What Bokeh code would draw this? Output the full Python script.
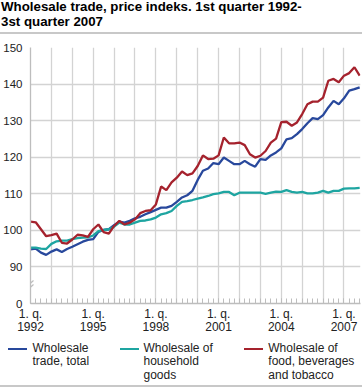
from bokeh.plotting import figure
from bokeh.layouts import column
from bokeh.models import FixedTicker, Range1d, Div
from bokeh.embed import file_html
from bokeh.resources import INLINE

# ---------------- data (quarterly index, 1. q. 1992 onwards) ----------------
quarter_no = list(range(64))
quarter_x = [1992 + q / 4 for q in quarter_no]

total = [94.8, 95.0, 93.9, 93.3, 94.2, 94.8, 94.1, 94.9, 95.5, 96.2, 96.9, 97.4,
         97.6, 99.6, 100.1, 100.3, 101.4, 102.4, 102.1, 102.6, 103.3, 103.7, 104.4, 105.0,
         105.6, 106.2, 106.2, 106.7, 107.8, 109.0, 109.6, 110.8, 113.8, 116.3, 116.9, 118.4,
         118.1, 119.9, 119.0, 118.1, 118.1, 119.0, 118.1, 117.4, 119.5, 119.3, 120.5, 121.3,
         122.4, 124.9, 125.2, 126.3, 127.7, 129.3, 130.7, 130.4, 131.5, 133.6, 135.4, 134.5,
         136.1, 138.2, 138.6, 139.1]

household = [95.3, 95.3, 95.0, 94.9, 96.3, 97.0, 97.2, 97.2, 97.6, 97.9, 98.0, 98.1,
             98.6, 99.8, 100.1, 100.3, 101.0, 102.1, 101.6, 101.6, 102.1, 102.6, 102.7, 103.0,
             103.5, 104.4, 104.7, 105.3, 106.7, 107.8, 108.0, 108.3, 108.7, 109.0, 109.4, 109.9,
             110.1, 110.5, 110.5, 109.6, 110.3, 110.3, 110.3, 110.3, 110.3, 110.0, 110.3, 110.6,
             110.5, 111.0, 110.5, 110.3, 110.5, 110.1, 110.1, 110.3, 110.8, 110.3, 110.8, 110.8,
             111.4, 111.5, 111.5, 111.6]

food = [102.4, 102.2, 100.3, 98.4, 98.7, 99.1, 96.6, 96.4, 97.5, 98.8, 98.6, 98.2,
        100.3, 101.6, 99.5, 99.1, 101.2, 102.6, 101.6, 102.1, 103.0, 104.7, 105.3, 105.5,
        107.1, 112.0, 111.0, 113.1, 114.4, 116.1, 115.1, 115.6, 117.6, 120.5, 119.5, 119.6,
        120.5, 125.4, 123.8, 123.8, 124.0, 123.3, 120.8, 119.9, 120.4, 121.7, 124.0, 125.1,
        129.6, 129.7, 128.6, 129.5, 131.8, 134.5, 135.2, 135.2, 136.3, 140.9, 141.4, 140.5,
        142.3, 143.0, 144.6, 142.3]

label_years = [1992, 1995, 1998, 2001, 2004, 2007]
grid_years = list(range(1992, 2008))
y_ticks = [80, 90, 100, 110, 120, 130, 140, 150]
y_tick_labels = {80: "0"}

series_names = ["Wholesale\ntrade, total",
                "Wholesale of\nhousehold\ngoods",
                "Wholesale of\nfood, beverages\nand tobacco"]
series_colors = ["#28489c", "#1ea5a1", "#a5222d"]

title_lines = ["Wholesale trade, price indeks. 1st quarter 1992-", "3st quarter 2007"]

# ---------------- layout constants (page pixels) ----------------
W = 362
TITLE_H = 40
MAIN_H = 300
LEG_H = 48
FL, FR = 30, 360            # frame left/right
FT, FB = 47, 303            # frame top/bottom in page pixels
X0, X1 = 1992.0, 2007.79
Y0, Y1 = 80.0, 150.0
FONT = "'Liberation Sans', Arial, sans-serif"
GRID = "#d3d3d3"
RULE = "#c8c8c8"
AXIS = "#bdbdbd"

# ---------------- title panel ----------------
title_html = (
    '<div style="position:relative;width:%dpx;height:%dpx;overflow:hidden;'
    'font-family:%s;">' % (W, TITLE_H, FONT)
    + '<div style="position:absolute;left:1px;top:0.3px;font-size:13.3px;font-weight:bold;'
      'line-height:14.9px;color:#000;white-space:nowrap;">'
    + "<br>".join(title_lines) + "</div>"
    + '<div style="position:absolute;left:0;top:32px;width:%dpx;height:2px;'
      'background:%s;"></div>' % (W, RULE)
    + "</div>"
)
pt = Div(text=title_html, width=W, height=TITLE_H, margin=0)

# ---------------- main chart ----------------
p = figure(width=W, height=MAIN_H, x_range=Range1d(X0, X1), y_range=Range1d(Y0, Y1),
           output_backend="svg", toolbar_location=None,
           min_border_left=FL, min_border_right=W - FR,
           min_border_top=FT - TITLE_H, min_border_bottom=TITLE_H + MAIN_H - FB)
p.outline_line_color = None
p.background_fill_color = "white"
p.border_fill_color = "white"

p.xgrid.ticker = FixedTicker(ticks=grid_years)
p.ygrid.ticker = FixedTicker(ticks=y_ticks[1:])
p.grid.grid_line_color = GRID
p.grid.grid_line_width = 1.3

xa = p.xaxis[0]
xa.ticker = FixedTicker(ticks=label_years, minor_ticks=quarter_x)
xa.major_label_overrides = {y: "1. q.\n%d" % y for y in label_years}
xa.axis_line_color = AXIS
xa.axis_line_width = 1.3
xa.major_tick_in = 5
xa.major_tick_out = 0
xa.minor_tick_in = 5
xa.minor_tick_out = 0
xa.major_tick_line_color = AXIS
xa.minor_tick_line_color = AXIS
xa.major_label_standoff = 3
xa.major_label_text_font = "Liberation Sans"
xa.major_label_text_font_size = "12px"
xa.major_label_text_line_height = 0.95
xa.major_label_text_color = "#222222"

ya = p.yaxis[0]
ya.ticker = FixedTicker(ticks=y_ticks)
ya.major_label_overrides = y_tick_labels
ya.axis_line_color = AXIS
ya.axis_line_width = 1.3
ya.major_tick_in = 0
ya.major_tick_out = 0
ya.minor_tick_line_color = None
ya.major_label_standoff = 8
ya.major_label_text_font = "Liberation Sans"
ya.major_label_text_font_size = "11.5px"
ya.major_label_text_color = "#222222"

for vals, col in zip([total, household, food], series_colors):
    p.line(quarter_x, vals, line_color=col, line_width=2.3)

# axis break (gap in the axis line + two slanted strokes)
px_per_x = (X1 - X0) / (FR - FL)
px_per_y = (Y1 - Y0) / (FB - FT)


def dx(cx):
    return X0 + (cx - FL) * px_per_x


def dy(cy):
    return Y0 + (FB - cy) * px_per_y


p.patch([dx(22), dx(34), dx(34), dx(22)], [dy(288), dy(278), dy(283), dy(293)],
        fill_color="white", line_alpha=0)
p.segment(x0=[dx(23), dx(23)], y0=[dy(289), dy(293)], x1=[dx(33), dx(33)],
          y1=[dy(280), dy(284)], line_color=AXIS, line_width=1.2)

# ---------------- legend panel ----------------
sw_x = [8, 120, 244]
tx_x = [32.5, 143.5, 268.3]
items = []
for name, col, sx, tx in zip(series_names, series_colors, sw_x, tx_x):
    items.append(
        '<div style="position:absolute;left:%dpx;top:8.1px;width:19px;height:2.4px;'
        'background:%s;"></div>' % (sx, col))
    items.append(
        '<div style="position:absolute;left:%.1fpx;top:1.7px;font-size:12px;'
        'line-height:13.45px;color:#222;white-space:nowrap;">%s</div>'
        % (tx, name.replace("\n", "<br>")))
legend_html = (
    '<div style="position:relative;width:%dpx;height:%dpx;overflow:hidden;'
    'font-family:%s;">' % (W, LEG_H, FONT)
    + "".join(items)
    + '<div style="position:absolute;left:0;top:45px;width:%dpx;height:2px;'
      'background:%s;"></div>' % (W, RULE)
    + "</div>"
)
pl = Div(text=legend_html, width=W, height=LEG_H, margin=0)

layout = column(pt, p, pl, spacing=0)
open("out.html", "w").write(file_html(layout, INLINE))
